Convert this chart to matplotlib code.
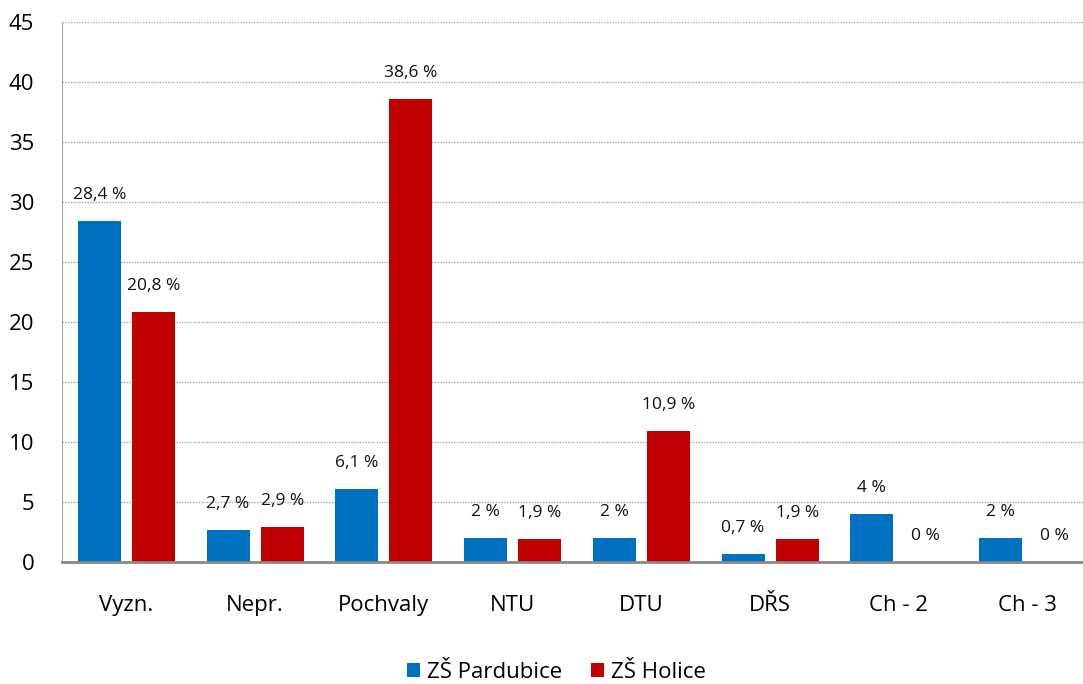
import numpy as np
import matplotlib.pyplot as plt

plt.rcParams['font.family'] = ['Open Sans', 'DejaVu Sans']

# kategorie a hodnoty (%)
kategorie = ['Vyzn.', 'Nepr.', 'Pochvaly', 'NTU', 'DTU', 'DŘS', 'Ch - 2', 'Ch - 3']
pardubice = [28.4, 2.7, 6.1, 2, 2, 0.7, 4, 2]
holice = [20.8, 2.9, 38.6, 1.9, 10.9, 1.9, 0, 0]

modra = '#0070C0'
cervena = '#C00000'

fig = plt.figure(figsize=(10.83, 6.84), dpi=100)
ax = fig.add_axes([62 / 1083, 1 - 562 / 684, 1030 / 1083, 540 / 684])

x = np.arange(len(kategorie))
sirka = 0.335
posun = 0.21
b1 = ax.bar(x - posun, pardubice, sirka, color=modra, label='ZŠ Pardubice')
b2 = ax.bar(x + posun, holice, sirka, color=cervena, label='ZŠ Holice')


def popisek(v):
    s = ('%g' % v).replace('.', ',')
    return s + ' %'


for bars, vals in ((b1, pardubice), (b2, holice)):
    for b, v in zip(bars, vals):
        ax.annotate(popisek(v), (b.get_x() + b.get_width() / 2, v),
                    xytext=(0, 13), textcoords='offset points',
                    ha='center', va='bottom', fontsize=12.5, color='#111111')

ax.set_xlim(-0.5, len(kategorie) - 0.5)
ax.set_ylim(0, 45)
ax.set_yticks(range(0, 46, 5))
ax.set_xticks(x)
ax.set_xticklabels(kategorie)
ax.tick_params(axis='both', length=0, labelsize=16)
ax.tick_params(axis='x', pad=24)
ax.tick_params(axis='y', pad=20)

ax.yaxis.grid(True, linestyle=(0, (1, 1)), color='#a8a8a8', linewidth=1)
ax.set_axisbelow(True)
for s in ('top', 'right'):
    ax.spines[s].set_visible(False)
ax.spines['left'].set_linestyle((0, (1, 1)))
ax.spines['left'].set_color('#a8a8a8')
ax.spines['bottom'].set_color('#888888')
ax.spines['bottom'].set_linewidth(2)

fig.legend(handles=[b1, b2], loc='center', bbox_to_anchor=(556 / 1083, 1 - 672 / 684),
           ncol=2, frameon=False, fontsize=16, handlelength=0.6,
           handleheight=0.6, handletextpad=0.3, columnspacing=1.3)

fig.savefig('out.png', dpi=100)
